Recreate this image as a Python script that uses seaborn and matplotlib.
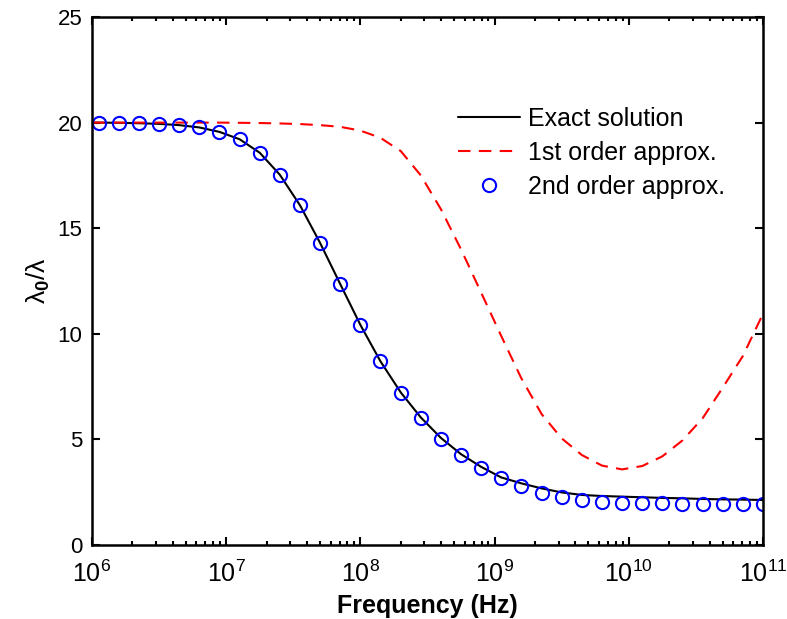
import numpy as np
import pandas as pd
import matplotlib
matplotlib.use("Agg")
import matplotlib.pyplot as plt
import seaborn as sns
from matplotlib.ticker import LogLocator, NullFormatter

# frequencies of the line data (Hz)
freq_line = [1.0e6, 1.12e6, 1.58e6, 2.24e6, 3.16e6, 4.47e6, 6.31e6, 8.91e6, 1.26e7, 1.78e7,
             2.51e7, 3.55e7, 5.01e7, 7.08e7, 1.0e8, 1.41e8, 2.0e8, 2.82e8, 3.98e8, 5.62e8,
             7.94e8, 1.12e9, 1.58e9, 2.24e9, 3.16e9, 4.47e9, 6.31e9, 8.91e9, 1.26e10,
             1.78e10, 2.51e10, 3.55e10, 5.01e10, 7.08e10, 1.0e11]

exact = [20.0, 20.0, 19.99, 19.97, 19.94, 19.88, 19.77, 19.56, 19.21, 18.57,
         17.53, 16.08, 14.30, 12.35, 10.42, 8.70, 7.22, 6.04, 5.07, 4.30,
         3.70, 3.20, 2.92, 2.68, 2.49, 2.37, 2.32, 2.29, 2.26, 2.23,
         2.21, 2.18, 2.16, 2.15, 2.13]

first_order = [20.0, 20.0, 20.0, 20.0, 20.0, 20.0, 20.0, 20.0, 19.99, 19.98,
               19.96, 19.93, 19.88, 19.80, 19.62, 19.28, 18.65, 17.50, 15.90, 14.00,
               11.95, 9.90, 7.90, 6.20, 5.05, 4.26, 3.76, 3.58, 3.74, 4.20,
               4.95, 6.00, 7.45, 8.95, 10.95]

# frequencies of the circle markers (Hz)
freq_marker = [1.12e6, 1.58e6, 2.24e6, 3.16e6, 4.47e6, 6.31e6, 8.91e6, 1.26e7, 1.78e7,
               2.51e7, 3.55e7, 5.01e7, 7.08e7, 1.0e8, 1.41e8, 2.0e8, 2.82e8, 3.98e8, 5.62e8,
               7.94e8, 1.12e9, 1.58e9, 2.24e9, 3.16e9, 4.47e9, 6.31e9, 8.91e9, 1.26e10,
               1.78e10, 2.51e10, 3.55e10, 5.01e10, 7.08e10, 1.0e11]

second_order = [19.97, 19.97, 19.96, 19.95, 19.89, 19.78, 19.56, 19.22, 18.57,
                17.53, 16.08, 14.29, 12.34, 10.42, 8.69, 7.21, 6.03, 5.04, 4.26,
                3.65, 3.15, 2.78, 2.48, 2.29, 2.15, 2.05, 2.00, 1.97,
                1.97, 1.96, 1.96, 1.96, 1.96, 1.96]

labels = ["Exact solution", "1st order approx.", "2nd order approx."]
x_ticks = [1e6, 1e7, 1e8, 1e9, 1e10, 1e11]
x_ticklabels = [r"$10^{6}$", r"$10^{7}$", r"$10^{8}$", r"$10^{9}$", r"$10^{10}$", r"$10^{11}$"]
y_ticks = [0, 5, 10, 15, 20, 25]

sns.set_style("ticks")
plt.rcParams["font.family"] = ["Liberation Sans", "DejaVu Sans"]
plt.rcParams["mathtext.fontset"] = "custom"
plt.rcParams["mathtext.rm"] = "Liberation Sans"
plt.rcParams["mathtext.bf"] = "Liberation Sans:bold"
plt.rcParams["mathtext.it"] = "Liberation Sans"
plt.rcParams["text.color"] = "black"
plt.rcParams["axes.labelcolor"] = "black"
plt.rcParams["xtick.color"] = "black"
plt.rcParams["ytick.color"] = "black"
plt.rcParams["axes.edgecolor"] = "black"

df_line = pd.DataFrame({"f": freq_line, "exact": exact, "first": first_order})
df_mark = pd.DataFrame({"f": freq_marker, "second": second_order})

fig = plt.figure(figsize=(7.87, 6.19), dpi=100)
ax = fig.add_axes([92 / 787, 74 / 619, 671 / 787, 528 / 619])

sns.lineplot(data=df_line, x="f", y="exact", ax=ax, color="black", lw=1.5, label=labels[0])
sns.lineplot(data=df_line, x="f", y="first", ax=ax, color="#ff0000", lw=1.5,
             linestyle=(0, (6, 4)), label=labels[1])
sns.lineplot(data=df_mark, x="f", y="second", ax=ax, linestyle="", marker="o",
             markersize=9.5, markerfacecolor="none", markeredgecolor="#0000ff",
             markeredgewidth=1.5, color="#0000ff", label=labels[2])

ax.set_xscale("log")
ax.set_xlim(1e6, 1e11)
ax.set_ylim(0, 25)
ax.set_xticks(x_ticks)
ax.set_xticklabels(x_ticklabels, fontsize=18)
ax.xaxis.set_minor_locator(LogLocator(base=10, subs=np.arange(2, 10)))
ax.xaxis.set_minor_formatter(NullFormatter())
ax.set_yticks(y_ticks)
ax.set_yticklabels([str(v) for v in y_ticks], fontsize=16)

ax.tick_params(which="both", direction="in", top=True, right=True, width=1.5)
ax.tick_params(which="major", length=6)
ax.tick_params(axis="x", which="major", pad=11)
ax.tick_params(axis="y", which="major", pad=7)
ax.tick_params(which="minor", length=3)
for s in ax.spines.values():
    s.set_linewidth(1.8)
    s.set_visible(True)

ax.set_xlabel("Frequency (Hz)", fontsize=18, fontweight="bold", labelpad=5)
ax.set_ylabel(r"$\lambda_{\mathbf{0}}/\lambda$", fontsize=19, labelpad=4)

handles, labs = ax.get_legend_handles_labels()
leg = ax.legend(handles, labs, loc="upper left", bbox_to_anchor=(0.545, 0.83),
                frameon=False, fontsize=18, handlelength=2.5, handletextpad=0.3,
                labelspacing=0.4, borderaxespad=0, borderpad=0)

fig.savefig("out.png", dpi=100)
